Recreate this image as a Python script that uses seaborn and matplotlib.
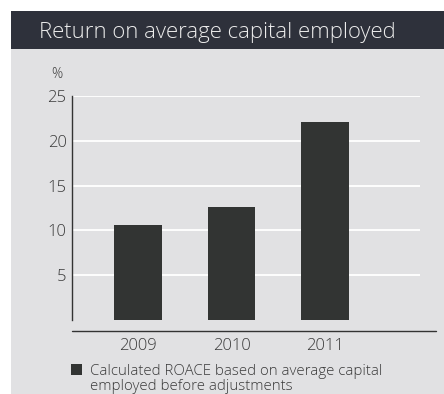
import matplotlib
matplotlib.use("Agg")
import matplotlib.pyplot as plt
from matplotlib.patches import Rectangle
from matplotlib.lines import Line2D
import seaborn as sns
import pandas as pd

# Chart data
years = ["2009", "2010", "2011"]
roace = [10.6, 12.6, 22.1]
y_ticks = [5, 10, 15, 20, 25]
title = "Return on average capital employed"
legend_lines = ["Calculated ROACE based on average capital",
                "employed before adjustments"]

BAR = "#323433"
PANEL = "#e1e1e3"
HEADER = "#2e313b"
TEXT = "#3a3a3a"

sns.set_theme(style="white")
plt.rcParams["font.family"] = ["Open Sans", "DejaVu Sans"]
plt.rcParams["font.weight"] = 300

W, H = 444, 394
fig = plt.figure(figsize=(W / 100, H / 100), dpi=100)
fig.patch.set_facecolor("white")

def fx(px):
    return px / W

def fy(py):
    return 1 - py / H

# light panel and dark title band
fig.patches.append(Rectangle((fx(11), 0), 1 - fx(11), fy(49), transform=fig.transFigure,
                             facecolor=PANEL, edgecolor="none", zorder=-2))
fig.patches.append(Rectangle((fx(11), fy(49)), 1 - fx(11), fy(11) - fy(49), transform=fig.transFigure,
                             facecolor=HEADER, edgecolor="none", zorder=-1))
fig.text(fx(39), (fy(11) + fy(49)) / 2, title, color="#ececec", fontsize=15.9,
         ha="left", va="center_baseline")

ax = fig.add_axes([fx(72), fy(320), fx(420) - fx(72), fy(96) - fy(320)])
ax.set_facecolor("none")

df = pd.DataFrame({"year": years, "value": roace})
sns.barplot(data=df, x="year", y="value", color=BAR, saturation=1, width=0.513,
            linewidth=0, edgecolor="none", ax=ax, zorder=3)

ax.set_xlim(-0.706, 3.016)
ax.set_ylim(0, 25)
ax.set_yticks(y_ticks)
ax.set_yticklabels([str(t) for t in y_ticks])
ax.yaxis.grid(True, color="white", linewidth=1.3, zorder=0)
ax.set_axisbelow(True)
ax.set_xlabel("")
ax.set_ylabel("")
for side in ["top", "right", "bottom"]:
    ax.spines[side].set_visible(False)
ax.spines["left"].set_color("#333333")
ax.spines["left"].set_linewidth(1.0)
ax.tick_params(axis="both", length=0, labelsize=12, labelcolor=TEXT)
ax.tick_params(axis="y", pad=4)
ax.tick_params(axis="x", pad=13)

# separate baseline under the bars
fig.lines.append(Line2D([fx(72), fx(436)], [fy(331), fy(331)], transform=fig.transFigure,
                        color="#333333", linewidth=1.0))

fig.text(fx(57), fy(75), "%", color=TEXT, fontsize=10, ha="center", va="center")

# legend
fig.patches.append(Rectangle((fx(71), fy(375)), fx(11), fy(364) - fy(375), transform=fig.transFigure,
                             facecolor=BAR, edgecolor="none"))
fig.text(fx(90), fy(375), legend_lines[0], color=TEXT, fontsize=10.8,
         ha="left", va="baseline")
fig.text(fx(90), fy(390.5), legend_lines[1], color=TEXT, fontsize=10.8,
         ha="left", va="baseline")

fig.savefig("out.png", dpi=100, facecolor=fig.get_facecolor())
